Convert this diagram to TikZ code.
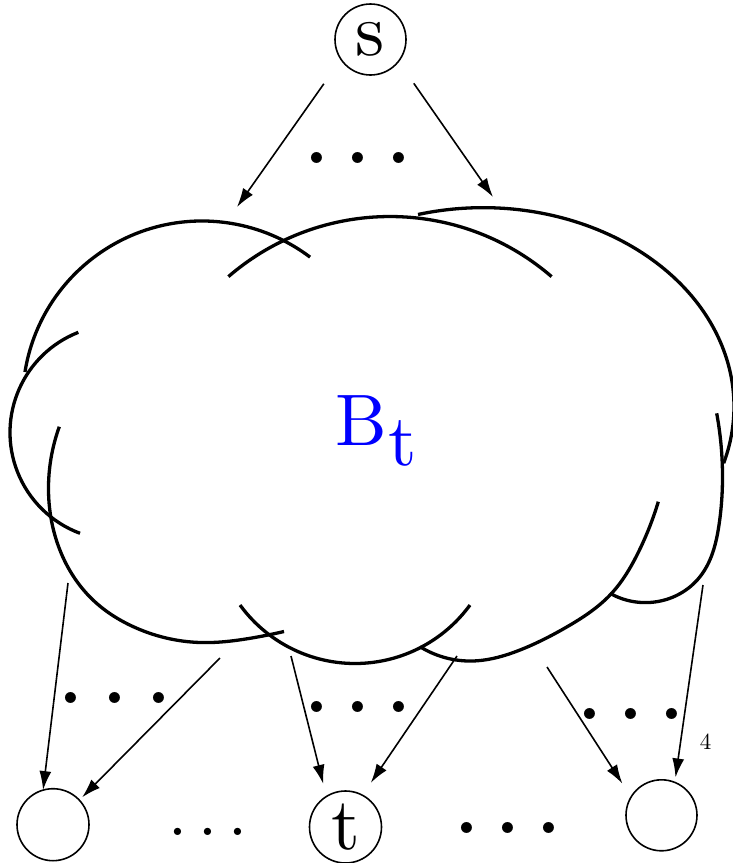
\documentclass[tikz,border=0pt]{standalone}
\usepackage{fontspec}
\setmainfont{lmroman10-regular.otf}
\usetikzlibrary{arrows.meta,hobby}
\begin{document}
\begin{tikzpicture}[x=1pt,y=-1pt,
  cloudline/.style={line width=3.3pt},
  conn/.style={line width=1.6pt,-{Latex[length=19pt,width=12pt]}},
  vertex/.style={circle,draw,line width=1.6pt,inner sep=0pt,outer sep=0pt,font=\fontsize{74}{74}\selectfont},
  bigdots/.style={inner sep=0pt,font=\fontsize{104}{104}\selectfont},
  smalldots/.style={inner sep=0pt,font=\fontsize{68}{68}\selectfont},
  ]
\useasboundingbox (0,0) rectangle (733,863);
% nodes
\node[vertex,minimum size=71pt] (s) at (370.5,39.5) {s};
\node[vertex,minimum size=72pt] (n1) at (53,824.7) {};
\node[vertex,minimum size=72pt] (t) at (345.5,827) {t};
\node[vertex,minimum size=71pt] (n3) at (661.5,815.3) {};
\node[anchor=base west,inner sep=0pt,text=blue,font=\fontsize{73}{73}\selectfont] (bt) at (335,445) {B\kern2pt\raisebox{-20pt}{t}};
\node[inner sep=0pt,font=\fontsize{23}{23}\selectfont] (lbl) at (705.5,741.5) {4};
% cloud
\draw[cloudline] (202.1,400.4) ++(189.1:179.4) arc[start angle=189.1,end angle=307,radius=179.4];
\draw[cloudline] (390,463.8) ++(229.2:247.3) arc[start angle=229.2,end angle=310.8,radius=247.3];
\draw[cloudline] (483,406.7) ++(255:251 and 199) arc[start angle=255,end angle=376.5,x radius=251,y radius=199];
\draw[cloudline,use Hobby shortcut] (716.7,413.3) .. (722.5,475) .. (719,525) .. (700,576.7) .. (656.7,601.7) .. (610,593.3);
\draw[cloudline,use Hobby shortcut] (658.3,501.7) .. (638,553) .. (611,594) .. (566.7,627) .. (520,650) .. (472,661) .. (420,646.7);
\draw[cloudline] (355,521.2) ++(143.9:142.3) arc[start angle=143.9,end angle=36.1,radius=142.3];
\draw[cloudline,use Hobby shortcut] (59.3,426.7) .. (48.5,490) .. (58,545) .. (93,600) .. (133.3,626.7) .. (200,642.5) .. (250,638.3) .. (284,631.5);
\draw[cloudline] (117.6,432.5) ++(248.6:107.6) arc[start angle=248.6,end angle=110.45,radius=107.6];
% free ends
\coordinate (ct1) at (237,207);
\coordinate (ct2) at (493,197);
\coordinate (c1) at (68,583);
\coordinate (c2) at (220,658);
\coordinate (c3) at (291,656);
\coordinate (c4) at (457,656);
\coordinate (c5) at (547,667);
\coordinate (c6) at (703,585);
% connectors
\draw[conn,shorten <=29.9pt] (s.214.5) -- (ct1);
\draw[conn,shorten <=26.8pt] (s.322.7) -- (ct2);
\draw[conn] (c1) -- (n1.106);
\draw[conn,shorten >=4pt] (c2) -- (n1.43.7);
\draw[conn,shorten >=13pt] (c3) -- (t.122.9);
\draw[conn,shorten >=15pt] (c4) -- (t.62.2);
\draw[conn,shorten >=16pt] (c5) -- (n3.149.4);
\draw[conn,shorten >=5pt] (c6) -- (n3.68.8);
% dots
\node[bigdots] (d1) at (358,158) {.\hspace{12.5pt}.\hspace{12.5pt}.};
\node[bigdots] (d2) at (115,698) {.\hspace{15.5pt}.\hspace{15.5pt}.};
\node[bigdots] (d3) at (358,707) {.\hspace{12.5pt}.\hspace{12.5pt}.};
\node[bigdots] (d4) at (631,714) {.\hspace{12.5pt}.\hspace{12.5pt}.};
\node[smalldots] (d5) at (208,832) {.\hspace{11pt}.\hspace{11pt}.};
\node[bigdots] (d6) at (508,828) {.\hspace{12.5pt}.\hspace{12.5pt}.};
\end{tikzpicture}
\end{document}
